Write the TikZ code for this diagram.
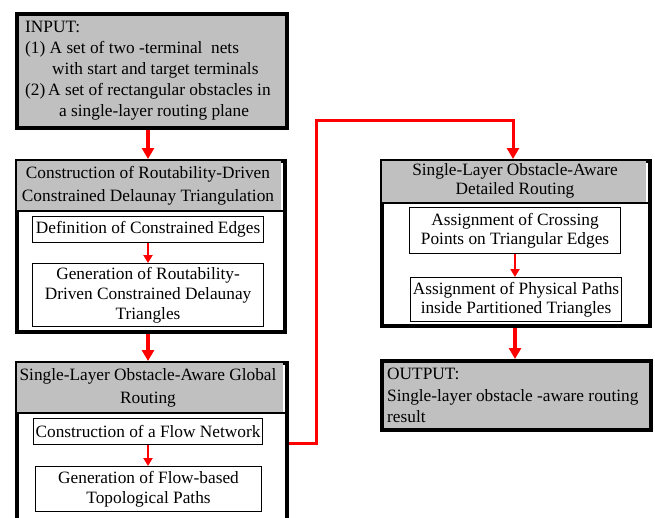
\documentclass[tikz,border=0pt]{standalone}
\usepackage{fontspec}
\setmainfont{Liberation Serif}
\usetikzlibrary{arrows.meta}
\definecolor{hdr}{RGB}{192,192,192}
\definecolor{arr}{RGB}{255,0,0}
\tikzset{
  outerbox/.style={draw=black, line width=4pt, anchor=north west, inner sep=0pt},
  graybox/.style={outerbox, fill=hdr},
  innerbox/.style={draw=black, line width=1.1pt, anchor=north west, inner sep=0pt, fill=white},
  hdrfill/.style={fill=hdr, draw=none, anchor=north west, inner sep=0pt},
  txt/.style={font=\fontsize{17.3}{20}\selectfont, align=center, inner sep=0pt},
  bigarrow/.style={draw=arr, line width=3.4pt, -{Triangle[length=11pt,width=12pt]}},
  smallarrow/.style={draw=arr, line width=2.6pt, -{Triangle[length=8pt,width=9pt]}},
  longline/.style={draw=arr, line width=3pt, -{Triangle[length=11pt,width=12pt]}},
}
\begin{document}
\begin{tikzpicture}[x=1pt,y=-1pt]
\useasboundingbox (0,0) rectangle (655,517);
% INPUT box
\node[graybox, minimum width=270pt, minimum height=114pt] (in) at (15,12) {};
\node[txt, align=left, anchor=north west, font=\fontsize{17.3}{21.2}\selectfont] (intext) at (25,20.5) {INPUT:\\
(1) A set of two -terminal\ \ nets\\
\hspace*{27pt}with start and target terminals\\
(2)\,A set of rectangular obstacles in\\
\hspace*{34pt}a single-layer routing plane};

% Box 2
\node[outerbox, fill=white, minimum width=268pt, minimum height=171pt] (b2) at (15,159) {};
\node[hdrfill, minimum width=264pt, minimum height=50pt] (b2h) at (17,161) {};
\draw[line width=1.2pt] (b2.west |- 0,211) -- (b2.east |- 0,211);
\node[txt, font=\fontsize{17.3}{23.5}\selectfont] (b2t) at (148,186) {Construction of Routability-Driven\\Constrained Delaunay Triangulation};
\node[innerbox, minimum width=231pt, minimum height=26pt] (b2a) at (32,216) {};
\node[txt] at (b2a.center) {Definition of Constrained Edges};
\node[innerbox, minimum width=231pt, minimum height=63pt] (b2b) at (32,263) {};
\node[txt] at (b2b.center) {Generation of Routability-\\Driven Constrained Delaunay\\Triangles};

% Box 3
\node[outerbox, fill=white, minimum width=270pt, minimum height=180pt] (b3) at (15,361) {};
\node[hdrfill, minimum width=266pt, minimum height=50pt] (b3h) at (17,363) {};
\draw[line width=1.2pt] (b3.west |- 0,413) -- (b3.east |- 0,413);
\node[txt, font=\fontsize{17.3}{23.5}\selectfont] (b3t) at (148,388) {Single-Layer Obstacle-Aware Global\\Routing};
\node[innerbox, minimum width=229pt, minimum height=26pt] (b3a) at (33,418) {};
\node[txt] at (b3a.center) {Construction of a Flow Network};
\node[innerbox, minimum width=226pt, minimum height=45pt] (b3b) at (35,466) {};
\node[txt] at (b3b.center) {Generation of Flow-based\\Topological Paths};

% Box 4
\node[outerbox, fill=white, minimum width=268pt, minimum height=165pt] (b4) at (380,159) {};
\node[hdrfill, minimum width=264pt, minimum height=42pt] (b4h) at (382,161) {};
\draw[line width=1.2pt] (b4.west |- 0,203) -- (b4.east |- 0,203);
\node[txt, font=\fontsize{17.3}{19}\selectfont] (b4t) at (515,181) {Single-Layer Obstacle-Aware\\Detailed Routing};
\node[innerbox, minimum width=211pt, minimum height=46pt] (b4a) at (409,207) {};
\node[txt, font=\fontsize{17.3}{19}\selectfont] at (b4a.center) {Assignment of Crossing\\Points on Triangular Edges};
\node[innerbox, minimum width=211pt, minimum height=44pt] (b4b) at (410,277) {};
\node[txt, font=\fontsize{17.3}{19}\selectfont] at (b4b.center) {Assignment of Physical Paths\\inside Partitioned Triangles};

% OUTPUT
\node[graybox, minimum width=269pt, minimum height=69pt] (out) at (380,359) {};
\node[txt, align=left, anchor=north west, font=\fontsize{17.3}{21.5}\selectfont] (outtext) at (387,368) {OUTPUT:\\Single-layer obstacle -aware routing\\result};

% Arrows
\draw[bigarrow] (in.south -| 148,0) -- (b2.north -| 148,0);
\draw[smallarrow] (b2a.south -| 148,0) -- (b2b.north -| 148,0);
\draw[bigarrow] (b2.south -| 148,0) -- (b3.north -| 148,0);
\draw[smallarrow] (b3a.south -| 148,0) -- (b3b.north -| 148,0);
\coordinate (c1) at (316,443);
\coordinate (c2) at (316,120);
\coordinate (c3) at (513,120);
\draw[longline] (b3.east |- c1) -- (c1) -- (c2) -- (c3) -- (b4.north -| c3);
\draw[smallarrow] (b4a.south -| 515,0) -- (b4b.north -| 515,0);
\draw[bigarrow] (b4.south -| 515,0) -- (out.north -| 515,0);
\end{tikzpicture}
\end{document}
